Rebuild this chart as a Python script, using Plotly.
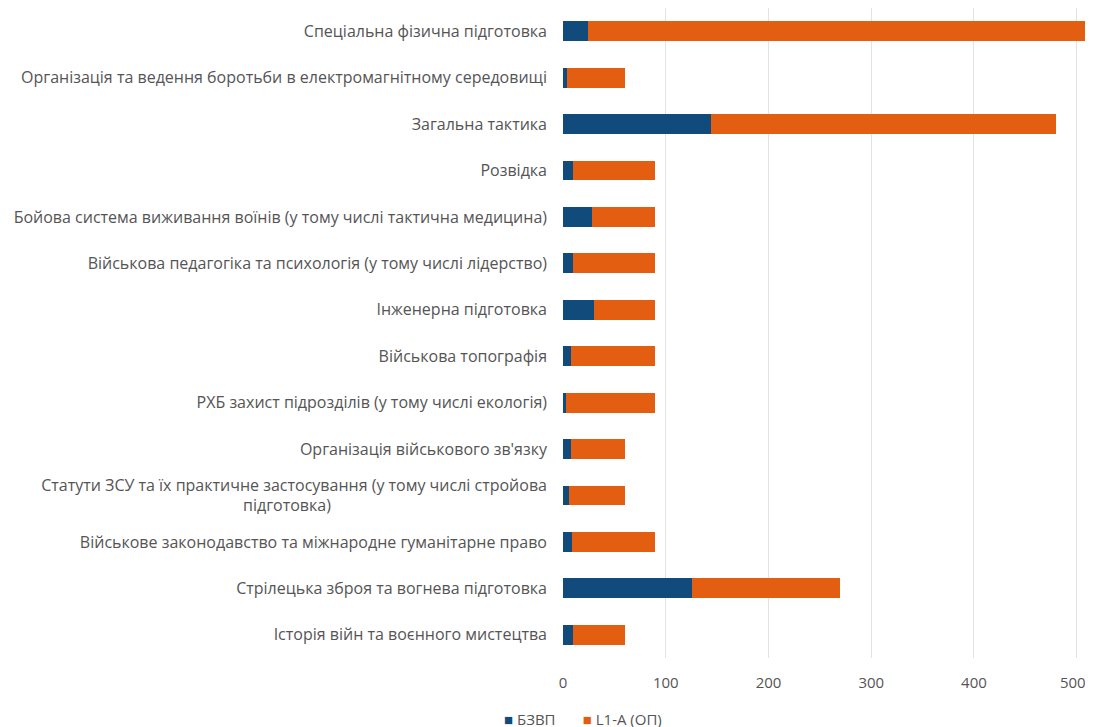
import plotly.graph_objects as go

categories = [
    "Спеціальна фізична підготовка",
    "Організація та ведення боротьби в електромагнітному середовищі",
    "Загальна тактика",
    "Розвідка",
    "Бойова система виживання воїнів (у тому числі тактична медицина)",
    "Військова педагогіка та психологія (у тому числі лідерство)",
    "Інженерна підготовка",
    "Військова топографія",
    "РХБ захист підрозділів (у тому числі екологія)",
    "Організація військового зв'язку",
    "Статути ЗСУ та їх практичне застосування (у тому числі стройова<br>підготовка)" + "\u00a0" * 52,
    "Військове законодавство та міжнародне гуманітарне право",
    "Стрілецька зброя та вогнева підготовка",
    "Історія війн та воєнного мистецтва",
]
bzvp = [24, 4, 144, 10, 28, 10, 30, 8, 3, 8, 6, 9, 126, 10]
l1a = [486, 56, 336, 80, 62, 80, 60, 82, 87, 52, 54, 81, 144, 50]
series_names = ["БЗВП", "L1-A (ОП)"]
series_colors = ["#114B7B", "#E45E12"]
tick_vals = [0, 100, 200, 300, 400, 500]
tick_text = ["0", "100", "200", "300", "400", "500\u00a0\u00a0"]

fig = go.Figure()
for name, vals, col in zip(series_names, [bzvp, l1a], series_colors):
    fig.add_trace(go.Bar(y=categories, x=vals, orientation="h", name=name,
                         marker=dict(color=col, line=dict(width=0))))

legend_text = ("\u00a0" * 7).join(
    f"<span style='color:{c}'>■</span>\u00a0{n}"
    for n, c in zip(series_names, series_colors)
)

fig.update_layout(
    barmode="stack",
    bargap=0.57,
    width=1093, height=727,
    margin=dict(l=555, r=14, t=0, b=77, autoexpand=False),
    paper_bgcolor="white", plot_bgcolor="white",
    font=dict(family="Open Sans", size=16, color="#555555"),
    showlegend=False,
    xaxis=dict(range=[0, 510], tickvals=tick_vals, ticktext=tick_text, showgrid=True,
               gridcolor="#E3E3E3", gridwidth=1, zeroline=False, showline=False, ticks="",
               automargin=False, ticklabelstandoff=14,
               tickfont=dict(size=15, color="#555555")),
    yaxis=dict(autorange="reversed", showgrid=False, ticks="", showline=False,
               automargin=False, ticklabelstandoff=15,
               tickfont=dict(size=16, color="#555555")),
    annotations=[dict(text=legend_text, xref="paper", yref="paper", x=0.038, y=-0.094,
                      xanchor="center", yanchor="middle", showarrow=False,
                      font=dict(size=15, color="#555555"))],
)
fig.write_html("out.html")
